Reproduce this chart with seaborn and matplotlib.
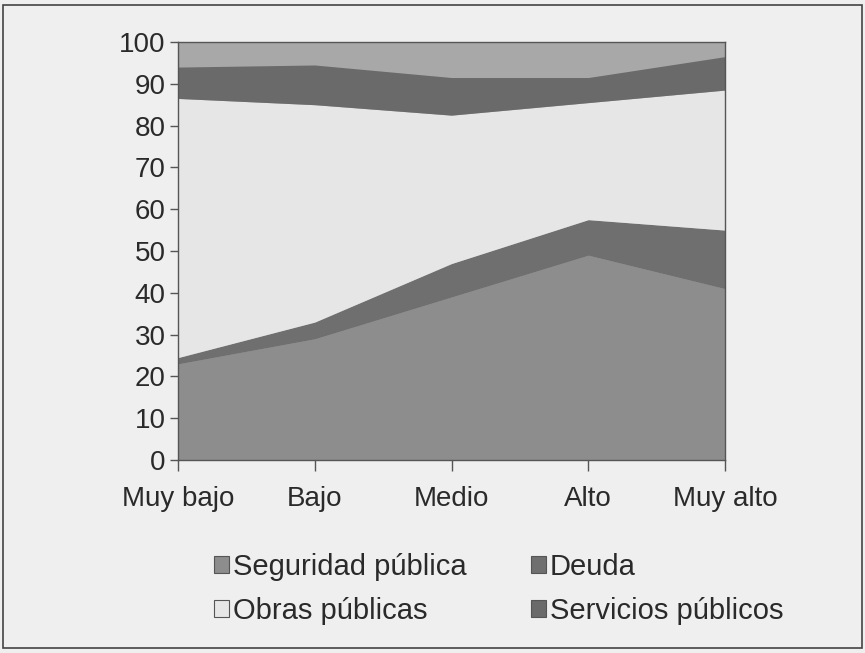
import matplotlib
matplotlib.use("Agg")
import matplotlib.pyplot as plt
import seaborn as sns
import numpy as np
from matplotlib.patches import Patch, Rectangle

categories = ["Muy bajo", "Bajo", "Medio", "Alto", "Muy alto"]
seguridad = [23, 29, 39, 49, 41]
deuda = [1.5, 4, 8, 8.5, 14]
obras = [62, 52, 35.5, 28, 33.5]
servicios = [7.5, 9.5, 9, 6, 8]
series_names = ["Seguridad pública", "Deuda", "Obras públicas", "Servicios públicos"]
yticks = list(range(0, 101, 10))

colors = ["#8d8d8d", "#6f6f6f", "#e6e6e6", "#6a6a6a"]
page_bg = "#efefef"

sns.set_theme(style="ticks")
plt.rcParams["font.family"] = ["Liberation Sans", "DejaVu Sans"]

fig = plt.figure(figsize=(8.65, 6.53), dpi=100, facecolor=page_bg)
ax = fig.add_axes([178/865, 1-460/653, (725-178)/865, (460-42)/653])
ax.set_facecolor("#a8a8a8")

x = np.arange(len(categories))
ax.stackplot(x, seguridad, deuda, obras, servicios, colors=colors, linewidth=0)

ax.set_xlim(0, len(categories)-1)
ax.set_ylim(0, 100)
ax.set_yticks(yticks)
ax.set_xticks(x)
ax.set_xticklabels(categories)
ax.tick_params(axis="y", labelsize=20, length=6, width=1, color="#555555", labelcolor="#2a2a2a", pad=3)
ax.tick_params(axis="x", labelsize=20, length=8, width=1, color="#555555", labelcolor="#2a2a2a", pad=11)
for s in ax.spines.values():
    s.set_color("#555555")
    s.set_linewidth(1)
ax.grid(False)

order = [0, 2, 1, 3]
handles = [Patch(facecolor=colors[i], edgecolor="#555555", linewidth=0.8) for i in order]
labels = [series_names[i] for i in order]
fig.legend(handles, labels, ncol=2, loc="center", bbox_to_anchor=(499/865, 1-589/653),
           frameon=False, fontsize=21, handlelength=0.5, handleheight=0.5,
           handletextpad=0.15, columnspacing=2.2, labelspacing=0.55,
           labelcolor="#2a2a2a")

fig.patches.append(Rectangle((3/865, 5/653), 859/865, 643/653, transform=fig.transFigure,
                             fill=False, edgecolor="#444444", linewidth=1.2))

fig.savefig("out.png", dpi=100, facecolor=page_bg)
